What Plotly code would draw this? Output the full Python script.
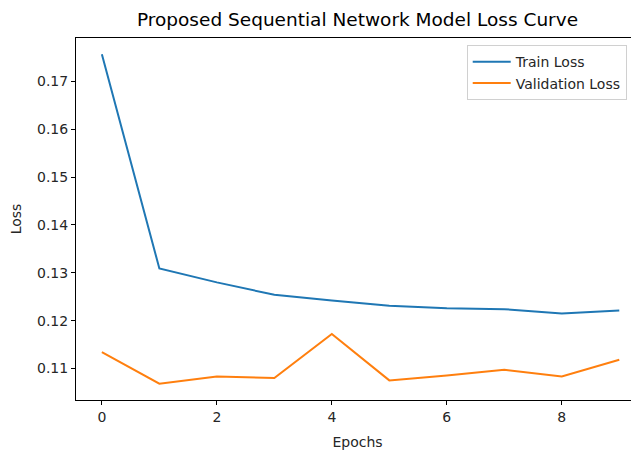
import plotly.graph_objects as go

epochs = [0, 1, 2, 3, 4, 5, 6, 7, 8, 9]
train_loss = [0.1757, 0.1309, 0.1280, 0.1254, 0.1242, 0.1231, 0.1226, 0.1224, 0.1215, 0.1221]
val_loss = [0.1134, 0.1068, 0.1083, 0.1080, 0.1172, 0.1075, 0.1085, 0.1097, 0.1083, 0.1118]
x_ticks = [0, 2, 4, 6, 8]
y_ticks = [0.11, 0.12, 0.13, 0.14, 0.15, 0.16, 0.17]

FONT = "DejaVu Sans"

fig = go.Figure()
fig.add_trace(go.Scatter(x=epochs, y=train_loss, mode="lines", name="Train Loss",
                         line=dict(color="#1f77b4", width=2)))
fig.add_trace(go.Scatter(x=epochs, y=val_loss, mode="lines", name="Validation Loss",
                         line=dict(color="#ff7f0e", width=2)))

# page body has an 8px margin, so the figure is sized to fill the window from (8, 8)
fig.update_layout(
    width=631, height=444,
    margin=dict(l=68, r=0, t=30, b=52, autoexpand=False),
    plot_bgcolor="white", paper_bgcolor="white",
    font=dict(family=FONT, size=14, color="#262626"),
    title=dict(text="Proposed Sequential Network Model Loss Curve", x=0.5, xref="paper",
               xanchor="center", yref="container", y=0.973, yanchor="middle",
               font=dict(family=FONT, size=18.5, color="#000000")),
    legend=dict(x=0.694, y=0.98, xanchor="left", yanchor="top",
                bgcolor="rgba(255,255,255,0.8)", bordercolor="#d0d0d0", borderwidth=1,
                font=dict(family=FONT, size=14, color="#262626"),
                itemwidth=38, tracegroupgap=0),
    showlegend=True,
)
fig.update_xaxes(
    range=[-0.45, 9.343], tickvals=x_ticks, ticktext=[str(v) for v in x_ticks],
    showgrid=False, zeroline=False, showline=True, linecolor="black", linewidth=1,
    mirror=True, ticks="outside", ticklen=4, tickcolor="black", automargin=False,
    title=dict(text="Epochs", font=dict(family=FONT, size=14, color="#262626"), standoff=13),
)
fig.update_yaxes(
    range=[0.1034, 0.1791], tickvals=y_ticks, ticktext=[f"{v:.2f}" for v in y_ticks],
    showgrid=False, zeroline=False, showline=True, linecolor="black", linewidth=1,
    mirror=False, ticks="outside", ticklen=4, tickcolor="black", automargin=False,
    title=dict(text="Loss", font=dict(family=FONT, size=14, color="#262626"), standoff=12),
)

fig.write_html("out.html")
